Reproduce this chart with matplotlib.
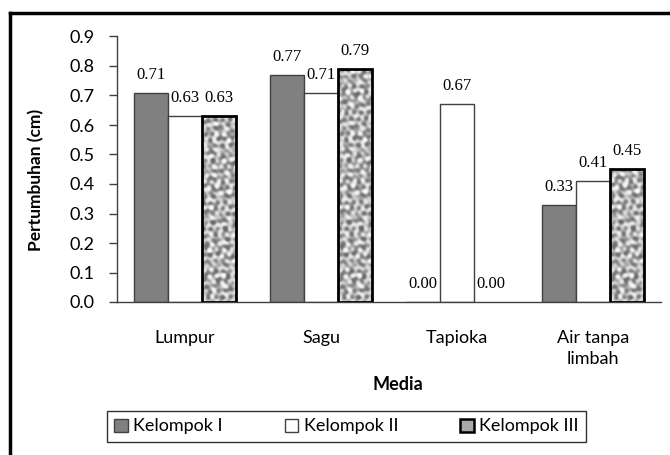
import numpy as np
import matplotlib
matplotlib.use("Agg")
import matplotlib.pyplot as plt
from matplotlib.lines import Line2D
from matplotlib.patches import Patch

# =========================================================
# 1. DATA
# =========================================================

media = ["Lumpur", "Sagu", "Tapioka", "Air tanpa\nlimbah"]
kelompok_1 = [0.71, 0.77, 0.00, 0.33]
kelompok_2 = [0.63, 0.71, 0.67, 0.41]
kelompok_3 = [0.63, 0.79, 0.00, 0.45]
series_names = ["Kelompok I", "Kelompok II", "Kelompok III"]
y_ticks = [0.0, 0.1, 0.2, 0.3, 0.4, 0.5, 0.6, 0.7, 0.8, 0.9]

# =========================================================
# 2. FIGURE
# =========================================================

W, H = 670, 455
fig = plt.figure(figsize=(W / 100, H / 100), dpi=100)
ax = fig.add_axes([117 / W, 1 - 302 / H, (661 - 117) / W, (302 - 36.5) / H])

SANS = "Lato"
SERIF = "Liberation Serif"

x = np.arange(len(media))
bw = 0.25

ax.bar(x - bw, kelompok_1, bw, color="#808080", edgecolor="#404040", linewidth=1.0, zorder=2)
ax.bar(x, kelompok_2, bw, color="white", edgecolor="#404040", linewidth=1.0, zorder=2)
bars3 = ax.bar(x + bw, kelompok_3, bw, color="none", edgecolor="black", linewidth=2.0, zorder=4)

# mottled stone-like texture for Kelompok III (decoration only, deterministic)
px, py = np.meshgrid(np.arange(34), np.arange(240))
angles = [0.3, 1.1, 1.9, 2.6, 0.7, 2.2, 1.5, 2.9, 0.05, 1.7]
freqs = [0.55, 0.8, 0.65, 0.95, 1.1, 0.5, 0.75, 0.9, 0.6, 1.0]
phases = [0.0, 1.3, 2.1, 0.7, 2.9, 1.8, 0.4, 2.5, 1.1, 3.0]
tex = np.zeros(px.shape, dtype=float)
for a, f, p in zip(angles, freqs, phases):
    tex += np.sin(f * (px * np.cos(a) + py * np.sin(a)) + p)
tex = np.tanh(tex / 4.0)

for b in bars3:
    h = b.get_height()
    if h <= 0:
        b.set_linewidth(0)
        continue
    rows = int(round(h / 0.9 * 265))
    im = ax.imshow(tex[:rows], extent=[b.get_x(), b.get_x() + b.get_width(), 0, h],
                   cmap="gray", vmin=-2.3, vmax=1.0, aspect="auto", zorder=3,
                   interpolation="bilinear", origin="lower")
    im.set_clip_path(b)

# value labels
for offs, vals in zip([-bw, 0, bw], [kelompok_1, kelompok_2, kelompok_3]):
    for xi, v in zip(x, vals):
        ax.annotate(f"{v:.2f}", (xi + offs, v), xytext=(0, 10), textcoords="offset points",
                    ha="center", va="baseline", fontsize=12, family=SERIF, zorder=5)

ax.set_xlim(-0.5, len(media) - 0.5)
ax.set_ylim(0, 0.9)
ax.set_yticks(y_ticks)
ax.set_yticklabels([f"{t:.1f}" for t in y_ticks], family=SANS, fontsize=13)
ax.set_xticks(x)
ax.set_xticklabels(media, family=SANS, fontsize=13, linespacing=1.4)
ax.tick_params(axis="x", length=0, pad=20)
ax.tick_params(axis="y", length=6, width=1, color="#404040", pad=10)

for s in ["top", "right"]:
    ax.spines[s].set_visible(False)
for s in ["left", "bottom"]:
    ax.spines[s].set_color("#404040")
    ax.spines[s].set_linewidth(1.0)

fig.text(36 / W, 1 - 180 / H, "Pertumbuhan (cm)", rotation=90, ha="center", va="center",
         family=SANS, fontsize=12.5, fontweight="bold")
fig.text(398 / W, 1 - 385 / H, "Media", ha="center", va="center",
         family=SANS, fontsize=13, fontweight="bold")

# legend
handles = [
    Patch(facecolor="#808080", edgecolor="#404040", linewidth=1.0),
    Patch(facecolor="white", edgecolor="#404040", linewidth=1.0),
    Patch(facecolor="#a8a8a8", edgecolor="black", linewidth=1.8),
]
leg = fig.legend(handles, series_names, ncol=3, loc="center",
                 bbox_to_anchor=(107 / W, 1 - 448 / H, (586 - 107) / W, 43 / H),
                 mode="expand", borderaxespad=0, frameon=True, fancybox=False,
                 handlelength=0.75, handleheight=0.75, handletextpad=0.3,
                 prop={"family": SANS, "size": 13})
leg.get_frame().set_edgecolor("black")
leg.get_frame().set_linewidth(1.0)

# outer chart border (only left and top visible)
fig.add_artist(Line2D([10 / W, 10 / W], [0, 1 - 13 / H], color="black", linewidth=2.5,
                      transform=fig.transFigure))
fig.add_artist(Line2D([10 / W, 1], [1 - 13 / H, 1 - 13 / H], color="black", linewidth=2.5,
                      transform=fig.transFigure))

fig.savefig("out.png", dpi=100)
